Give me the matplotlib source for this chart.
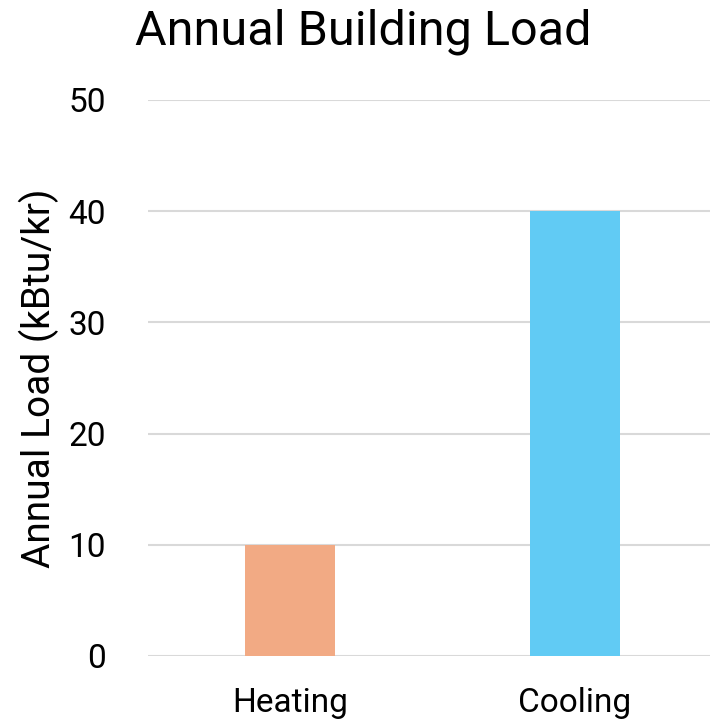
import matplotlib.pyplot as plt

categories = ['Heating', 'Cooling']
loads = [10, 40]
colors = ['#F2AA84', '#61CBF4']

plt.rcParams['font.family'] = ['Roboto', 'DejaVu Sans']

fig = plt.figure(figsize=(7.1, 7.25), dpi=100)
ax = fig.add_axes([147.5 / 710, 69 / 725, 570 / 710, 556 / 725])

x = range(len(categories))
ax.bar(x, loads, width=0.316, color=colors, zorder=3)
ax.set_xlim(-0.5, 1.5)
ax.set_ylim(0, 50)
ax.set_yticks(range(0, 51, 10))
ax.set_xticks(list(x))
ax.set_xticklabels(categories)
ax.yaxis.grid(True, color='#D9D9D9', linewidth=1.5, zorder=0)
for s in ax.spines.values():
    s.set_visible(False)
ax.tick_params(axis='both', length=0, labelsize=24, colors='black')
ax.tick_params(axis='y', pad=30)
ax.tick_params(axis='x', pad=22)
ax.set_ylabel('Annual Load (kBtu/kr)', fontsize=28, va='center')
ax.yaxis.set_label_coords(-0.19, 0.5)
fig.text(363 / 710, 1 - 32 / 725, 'Annual Building Load', fontsize=35,
         ha='center', va='center')

fig.savefig('out.png', dpi=100)
